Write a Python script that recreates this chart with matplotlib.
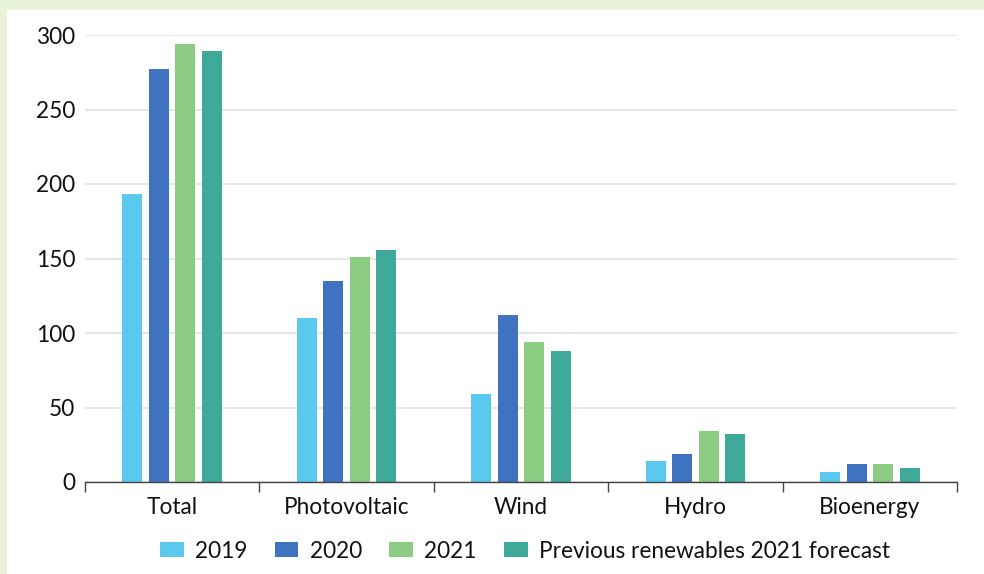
import numpy as np
import matplotlib.pyplot as plt
from matplotlib.patches import Rectangle

# data
categories = ["Total", "Photovoltaic", "Wind", "Hydro", "Bioenergy"]
series_names = ["2019", "2020", "2021", "Previous renewables 2021 forecast"]
vals_2019 = [193, 110, 59, 14, 7]
vals_2020 = [277, 135, 112, 19, 12]
vals_2021 = [294, 151, 94, 34, 12]
vals_forecast = [289, 156, 88, 32, 9.5]
yticks = [0, 50, 100, 150, 200, 250, 300]

colors = ["#5BC8EE", "#3F72BF", "#8CCB82", "#3FA99A"]

plt.rcParams['font.family'] = ['Lato', 'DejaVu Sans']
fs = 16.3

fig = plt.figure(figsize=(9.84, 5.74), dpi=100)
fig.patch.set_facecolor("#E9F3DA")
fig.add_artist(Rectangle((7 / 984, 0), 1, 1 - 10 / 574, transform=fig.transFigure,
                         facecolor="white", edgecolor="none", zorder=0))

ax = fig.add_axes([85 / 984, 1 - 482 / 574, (957 - 85) / 984, (482 - 35) / 574])
ax.set_facecolor("none")

x = np.arange(len(categories))
pitch = 0.152
width = 0.115
all_vals = [vals_2019, vals_2020, vals_2021, vals_forecast]
for i, (vals, name, c) in enumerate(zip(all_vals, series_names, colors)):
    ax.bar(x + (i - 1.5) * pitch, vals, width, color=c, label=name, zorder=3)

ax.set_xlim(-0.5, len(categories) - 0.5)
ax.set_ylim(0, 300)
ax.set_yticks(yticks)
ax.tick_params(axis='y', length=0, labelsize=fs, pad=7, labelcolor="#111111")
ax.yaxis.grid(True, color="#E6E6E6", linewidth=1.4, zorder=0)

# ticks at category boundaries, labels at centres
ax.set_xticks(np.arange(-0.5, len(categories)), minor=False)
ax.set_xticklabels([])
ax.set_xticks(x, minor=True)
ax.set_xticklabels(categories, minor=True)
ax.tick_params(axis='x', which='major', length=7, width=1, color="#444444")
ax.tick_params(axis='x', which='minor', length=0, labelsize=fs, pad=11, labelcolor="#111111")

for s in ["top", "right", "left"]:
    ax.spines[s].set_visible(False)
ax.spines["bottom"].set_color("#444444")
ax.spines["bottom"].set_linewidth(1)
ax.spines["bottom"].set_zorder(4)

fig.legend(loc="center", bbox_to_anchor=(525 / 984, 1 - 551 / 574), ncol=4,
           frameon=False, fontsize=fs, handlelength=1.05, handleheight=0.62,
           handletextpad=0.5, columnspacing=1.2, labelcolor="#111111")

fig.savefig("out.png", dpi=100, facecolor=fig.get_facecolor())
